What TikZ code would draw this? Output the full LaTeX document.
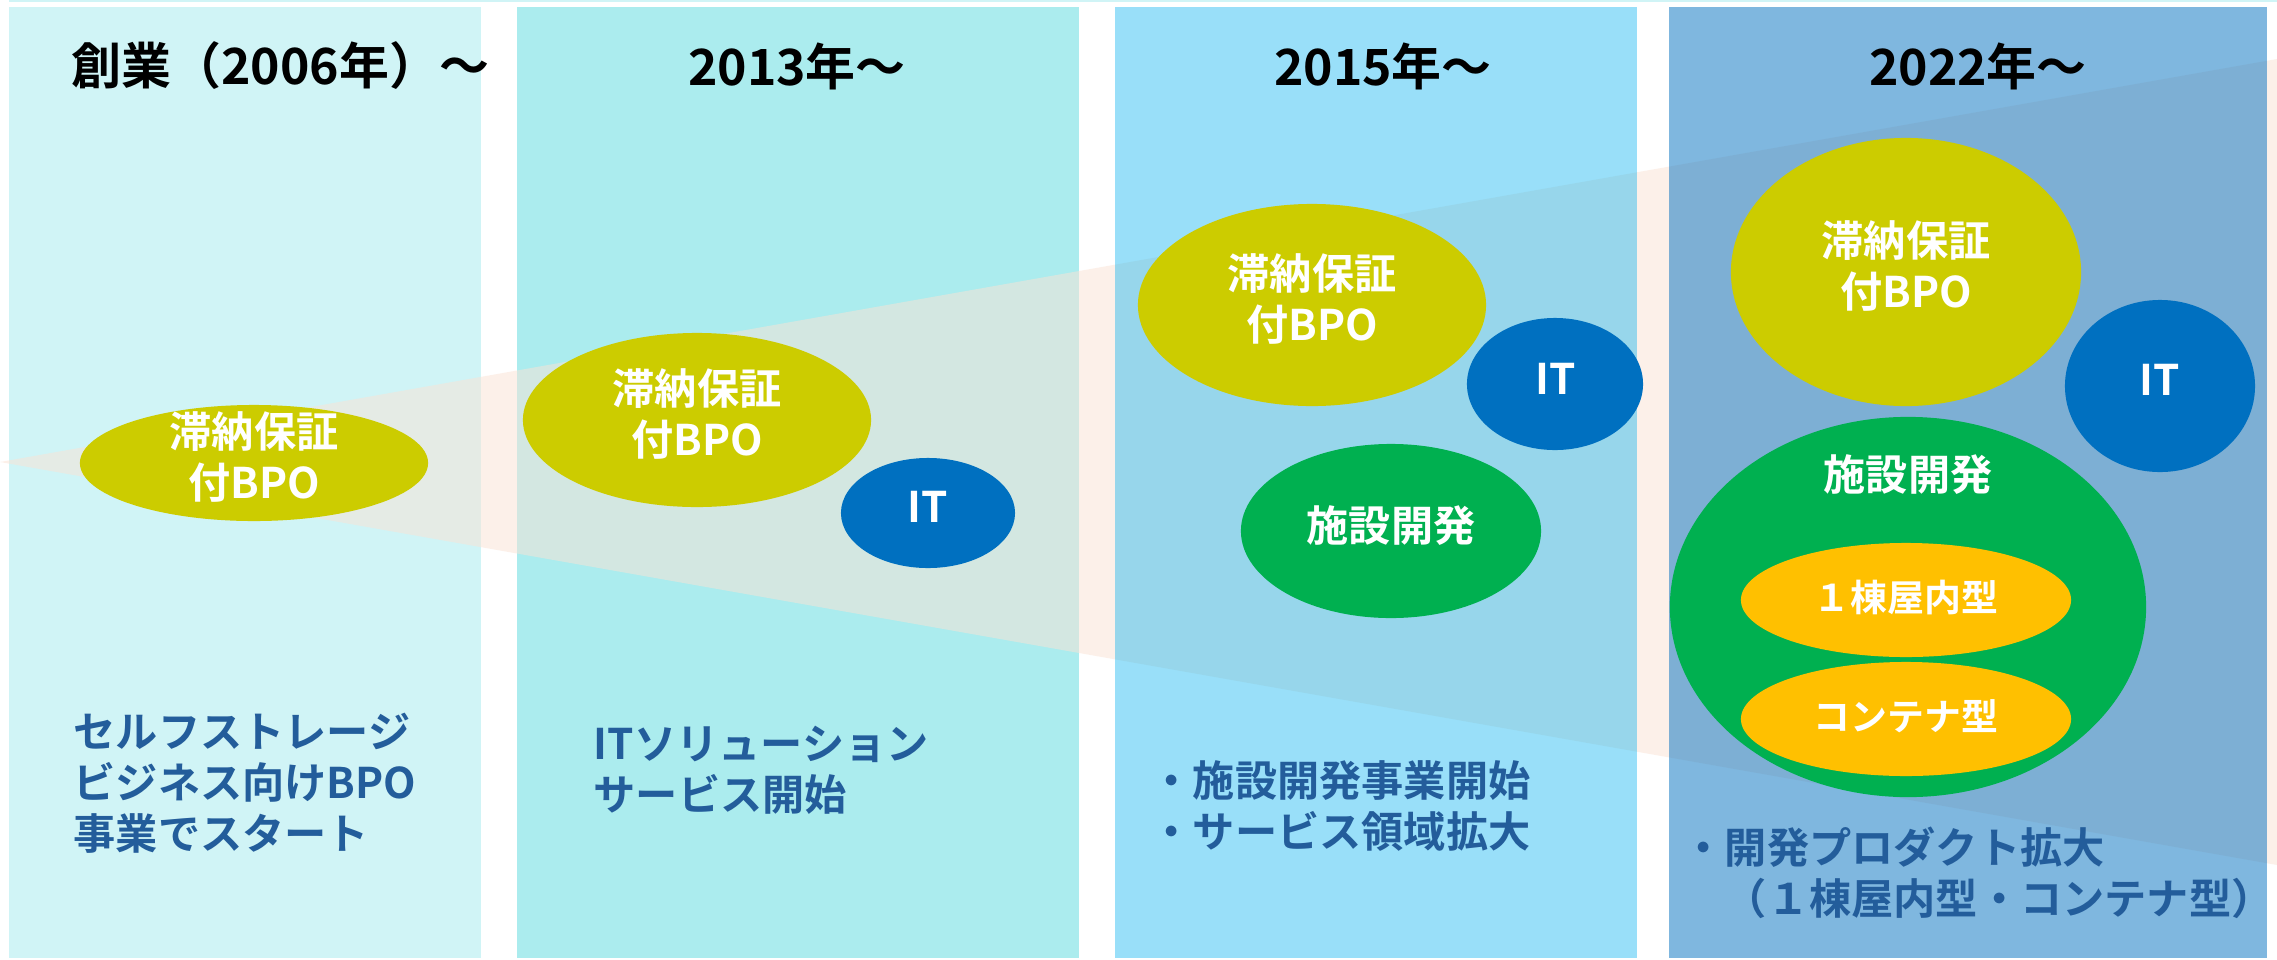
\documentclass[tikz,border=0pt]{standalone}
\usepackage{fontspec}
\setmainfont{Noto Sans CJK JP}[BoldFont={Noto Sans CJK JP Bold}]
\usetikzlibrary{shapes.geometric}
\definecolor{colA}{RGB}{208,244,246}
\definecolor{colB}{RGB}{171,236,238}
\definecolor{colC}{RGB}{0,176,240}
\definecolor{colD}{RGB}{0,112,192}
\definecolor{wedgecol}{RGB}{251,227,213}
\definecolor{olive}{RGB}{204,204,0}
\definecolor{itblue}{RGB}{0,112,192}
\definecolor{devgreen}{RGB}{0,176,80}
\definecolor{gold}{RGB}{255,192,0}
\definecolor{txtblue}{RGB}{35,93,155}

\begin{document}
\begin{tikzpicture}[x=0.01cm,y=-0.01cm,
  blob/.style={ellipse,inner sep=0pt,draw=none},
  bpo node/.style={blob,fill=olive},
  it node/.style={blob,fill=itblue},
  dev node/.style={blob,fill=devgreen},
  type node/.style={blob,fill=gold},
  white text/.style={text=white,font=\fontsize{12}{14.5}\selectfont\bfseries,align=center,inner sep=0pt},
  small text/.style={white text,font=\fontsize{10.5}{12}\selectfont\bfseries},
  year text/.style={font=\fontsize{14.2}{17}\selectfont\bfseries,inner sep=0pt},
  note text/.style={text=txtblue,font=\fontsize{12}{14.5}\selectfont\bfseries,align=left,inner sep=0pt,anchor=west}]

% background
\fill[white] (0,0) rectangle (2277,960);
\useasboundingbox (0,0) rectangle (2277,960);
\fill[colA] (9,0) rectangle (2277,2);

% first two columns
\fill[colA] (9,7) rectangle (481,958);
\fill[colB] (517,7) rectangle (1079,958);

% growth wedge
\fill[wedgecol,opacity=.5] (0,462) -- (2277,59) -- (2277,865) -- cycle;

% last two columns
\fill[colC,opacity=.4] (1115,7) rectangle (1637,958);
\fill[colD,opacity=.5] (1669,7) rectangle (2267,958);

% years
\node[year text,anchor=west] (year06) at (71,66) {創業（2006年）～};
\node[year text] (year13) at (797,66) {2013年～};
\node[year text] (year15) at (1383,66) {2015年～};
\node[year text] (year22) at (1978,66) {2022年～};

% 2006
\node[bpo node,minimum width=3.48cm,minimum height=1.16cm] (bpo1) at (254,463) {};
\node[white text] (bpo1txt) at (254,457) {滞納保証\\付BPO};

% 2013
\node[bpo node,minimum width=3.48cm,minimum height=1.74cm] (bpo2) at (697,420) {};
\node[white text] (bpo2txt) at (697,414) {滞納保証\\付BPO};
\node[it node,minimum width=1.74cm,minimum height=1.10cm] (it2) at (928,513) {};
\node[white text] (it2txt) at (928,507) {IT};

% 2015
\node[bpo node,minimum width=3.48cm,minimum height=2.02cm] (bpo3) at (1312,305) {};
\node[white text] (bpo3txt) at (1312,299) {滞納保証\\付BPO};
\node[it node,minimum width=1.76cm,minimum height=1.32cm] (it3) at (1555,384) {};
\node[white text] (it3txt) at (1556,379) {IT};
\node[dev node,minimum width=3.00cm,minimum height=1.74cm] (dev3) at (1391,531) {};
\node[white text] (dev3txt) at (1391,526) {施設開発};

% 2022
\node[bpo node,minimum width=3.50cm,minimum height=2.68cm] (bpo4) at (1906,272) {};
\node[white text] (bpo4txt) at (1906,266) {滞納保証\\付BPO};
\node[it node,minimum width=1.90cm,minimum height=1.72cm] (it4) at (2160,386) {};
\node[white text] (it4txt) at (2160,380) {IT};
\node[dev node,minimum width=4.76cm,minimum height=3.80cm] (dev4) at (1908,607) {};
\node[white text] (dev4txt) at (1908,475) {施設開発};
\node[type node,minimum width=3.30cm,minimum height=1.14cm] (type1) at (1906,600) {};
\node[small text] (type1txt) at (1906,597) {１棟屋内型};
\node[type node,minimum width=3.30cm,minimum height=1.14cm] (type2) at (1906,719) {};
\node[small text] (type2txt) at (1906,716) {コンテナ型};

% notes
\node[note text] (note06) at (73,783) {セルフストレージ\\ビジネス向けBPO\\事業でスタート};
\node[note text] (note13) at (593,770) {ITソリューション\\サービス開始};
\node[note text] (note15) at (1150,806) {・施設開発事業開始\\・サービス領域拡大};
\node[note text] (note22) at (1682,873) {・開発プロダクト拡大\\　（１棟屋内型・コンテナ型）};

\end{tikzpicture}
\end{document}
